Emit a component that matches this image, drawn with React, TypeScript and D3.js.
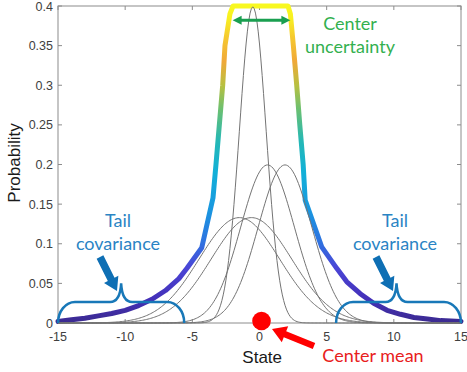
import React from "react";
import * as d3 from "d3";

// axis ticks
const xTicks = [-15, -10, -5, 0, 5, 10, 15];
const yTicks = [0, 0.05, 0.1, 0.15, 0.2, 0.25, 0.3, 0.35, 0.4];
const yTickLabels = ["0", "0.05", "0.1", "0.15", "0.2", "0.25", "0.3", "0.35", "0.4"];

// thick envelope
const envX = [-15, -14, -13, -12, -11, -10, -9, -8, -7, -6, -5.4, -4.3, -3.46, -3.24, -2.74, -2.57, -2.2, -1.97,
  2.12, 2.3, 2.52, 2.77, 3.0, 3.25, 3.4, 4.63, 5.75, 6.5, 7.5, 8.5, 9.5, 10.5, 11.5, 12.5, 13.5, 15];
const envY = [0.002, 0.004, 0.006, 0.009, 0.012, 0.016, 0.022, 0.03, 0.041, 0.056, 0.069, 0.095, 0.158, 0.2, 0.3, 0.35, 0.39, 0.4,
  0.4, 0.39, 0.35, 0.3, 0.25, 0.2, 0.155, 0.096, 0.069, 0.052, 0.037, 0.025, 0.016, 0.011, 0.007, 0.005, 0.003, 0.002];

// gray gaussian components
const compMeans = [-0.5, 0.6, 1.9, -1.5, -0.6];
const compSigmas = [1, 2, 2, 3, 3];

// annotations
const braceSpans = [[-15, -5.6], [5.7, 15]];
const bracePeaks = [-10.3, 10.2];

const W = 467, H = 372;
const margin = { left: 58, right: 6, top: 6, bottom: 49 };

const arrowPath = (x1, y1, x2, y2, sw, hw, hl) => {
  const dx = x2 - x1, dy = y2 - y1;
  const len = Math.hypot(dx, dy);
  const ux = dx / len, uy = dy / len;
  const nx = -uy, ny = ux;
  const bx = x2 - ux * hl, by = y2 - uy * hl;
  const p = [
    [x1 + nx * sw / 2, y1 + ny * sw / 2],
    [bx + nx * sw / 2, by + ny * sw / 2],
    [bx + nx * hw / 2, by + ny * hw / 2],
    [x2, y2],
    [bx - nx * hw / 2, by - ny * hw / 2],
    [bx - nx * sw / 2, by - ny * sw / 2],
    [x1 - nx * sw / 2, y1 - ny * sw / 2],
  ];
  return "M" + p.map(d => d.join(",")).join("L") + "Z";
};

const App = () => {
  const x = d3.scaleLinear().domain([-15, 15]).range([margin.left, W - margin.right]);
  const y = d3.scaleLinear().domain([0, 0.4]).range([H - margin.bottom, margin.top]);

  const line = d3.line<[number, number]>().x(d => x(d[0])).y(d => y(d[1]));
  const envelope = envX.map((v, i) => [v, envY[i]] as [number, number]);

  const grid = d3.range(-15, 15.001, 0.1);
  const comps = compMeans.map((m, i) => {
    const s = compSigmas[i];
    return grid.map(t => [t, Math.exp(-0.5 * ((t - m) / s) ** 2) / (s * Math.sqrt(2 * Math.PI))] as [number, number]);
  });

  const braceColor = "#1878b8";
  const braces = braceSpans.map(([a, b], i) => {
    const x0 = x(a), x1 = x(b), xp = x(bracePeaks[i]);
    const y0 = y(0), yh = y(0.0265), yt = y(0.05);
    const rx = 17, ry = y0 - yh;
    return `M${x0},${y0} A${rx},${ry} 0 0 1 ${x0 + rx},${yh} L${xp - 11},${yh} Q${xp - 1},${yh} ${xp},${yt} Q${xp + 1},${yh} ${xp + 11},${yh} L${x1 - rx},${yh} A${rx},${ry} 0 0 1 ${x1},${y0}`;
  });

  const gStops = [
    [0, "#3b2a8f"], [0.03, "#4430b8"], [0.07, "#4a45d6"], [0.1, "#3070e0"], [0.14, "#1a95e0"],
    [0.19, "#12b0d8"], [0.23, "#25b8b5"], [0.27, "#6cc070"], [0.3, "#b8c040"], [0.33, "#f0a838"],
    [0.36, "#f5c830"], [0.385, "#f8f020"], [0.4, "#f8f820"],
  ];

  const axisColor = "#8c8c8c";
  const tickColor = "#404040";
  const ga = 0.382;
  const gx1 = x(-2.0), gx2 = x(2.3), gy = y(ga);

  return (
    <svg width={W} height={H} style={{ position: "absolute", left: 0, top: 0, background: "#fff" }}
      fontFamily="'Liberation Sans', Arial, sans-serif">
      <defs>
        <linearGradient id="parula" gradientUnits="userSpaceOnUse" x1={0} x2={0} y1={y(0)} y2={y(0.4)}>
          {gStops.map(([v, c]) => <stop key={v} offset={(v as number) / 0.4} stopColor={c as string} />)}
        </linearGradient>
      </defs>

      {/* box */}
      <rect x={x(-15)} y={y(0.4)} width={x(15) - x(-15)} height={y(0) - y(0.4)} fill="none" stroke={axisColor} strokeWidth={1} />
      {xTicks.map(t => (
        <g key={"xt" + t}>
          <line x1={x(t)} x2={x(t)} y1={y(0)} y2={y(0) - 4} stroke={axisColor} />
          <line x1={x(t)} x2={x(t)} y1={y(0.4)} y2={y(0.4) + 4} stroke={axisColor} />
          <text x={x(t)} y={y(0) + 18} textAnchor="middle" fontSize={12.5} fill={tickColor}>{t}</text>
        </g>
      ))}
      {yTicks.map((t, i) => (
        <g key={"yt" + t}>
          <line x1={x(-15)} x2={x(-15) + 4} y1={y(t)} y2={y(t)} stroke={axisColor} />
          <line x1={x(15)} x2={x(15) - 4} y1={y(t)} y2={y(t)} stroke={axisColor} />
          <text x={x(-15) - 5} y={y(t) + 4.5} textAnchor="end" fontSize={12.5} fill={tickColor}>{yTickLabels[i]}</text>
        </g>
      ))}
      <text x={x(0.2)} y={363} textAnchor="middle" fontSize={17} fill="#1a1a1a">State</text>
      <text transform={`translate(20,${163}) rotate(-90)`} textAnchor="middle" fontSize={17} fill="#1a1a1a">Probability</text>

      {/* envelope */}
      <path d={line(envelope)} fill="none" stroke="url(#parula)" strokeWidth={5} strokeLinejoin="round" strokeLinecap="round" />

      {/* components */}
      {comps.map((c, i) => (
        <path key={"c" + i} d={line(c)} fill="none" stroke="#747474" strokeWidth={1} />
      ))}

      {/* center uncertainty */}
      <line x1={gx1 + 6} x2={gx2 - 6} y1={gy} y2={gy} stroke="#1a9f50" strokeWidth={3} />
      <path d={`M${gx1},${gy} L${gx1 + 9},${gy - 4.5} L${gx1 + 9},${gy + 4.5}Z`} fill="#1a9f50" />
      <path d={`M${gx2},${gy} L${gx2 - 9},${gy - 4.5} L${gx2 - 9},${gy + 4.5}Z`} fill="#1a9f50" />
      <g fontFamily="Lato, 'Open Sans', sans-serif" fontSize={18} fill="#33b04f" textAnchor="middle">
        <text x={350} y={30}>Center</text>
        <text x={350} y={53}>uncertainty</text>
      </g>

      {/* tails */}
      {braces.map((d, i) => <path key={"b" + i} d={d} fill="none" stroke={braceColor} strokeWidth={2.5} />)}
      <g fontFamily="Lato, 'Open Sans', sans-serif" fontSize={18} fill="#2a84c4" textAnchor="middle">
        <text x={118} y={227}>Tail</text>
        <text x={118} y={250}>covariance</text>
        <text x={395} y={227}>Tail</text>
        <text x={395} y={250}>covariance</text>
      </g>
      <path d={arrowPath(100, 257, 117, 291, 7.5, 16, 13)} fill="#0e6fb4" />
      <path d={arrowPath(376, 257, 393, 291, 7.5, 16, 13)} fill="#0e6fb4" />

      {/* center mean */}
      <circle cx={x(0.15)} cy={y(0.0025)} r={9.3} fill="#ff0000" />
      <path d={arrowPath(314, 346, 272, 329, 6.5, 17, 14)} fill="#ff0000" />
      <text x={373} y={362} textAnchor="middle" fontFamily="Lato, 'Open Sans', sans-serif" fontSize={18} fill="#e8201c">Center mean</text>
    </svg>
  );
};

export default App;
